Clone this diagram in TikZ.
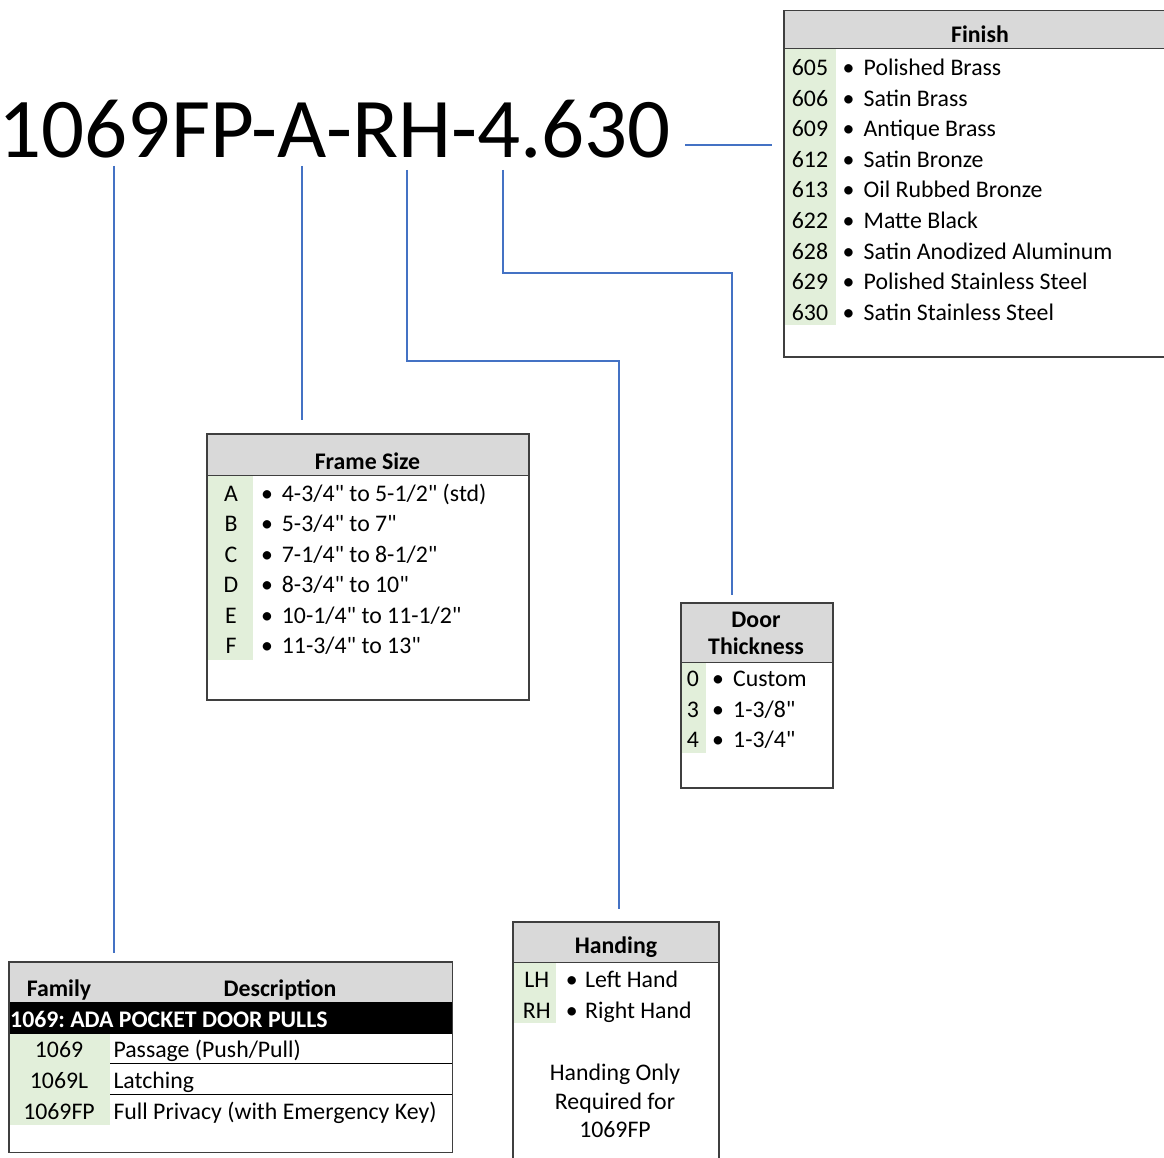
\documentclass[tikz,border=0pt]{standalone}
\usepackage{fontspec}
\setmainfont{Carlito}[Ligatures=TeXOff]
\definecolor{codegreen}{HTML}{E2EFDA}
\definecolor{hdrgrey}{HTML}{D9D9D9}
\definecolor{bordergrey}{HTML}{3F3F3F}
\definecolor{linkblue}{HTML}{4472C4}
\tikzset{
  boxframe/.style={draw=bordergrey, line width=1.5pt, inner sep=0pt, anchor=north west},
  hdrtxt/.style={inner sep=0pt, anchor=base, font=\fontsize{23.8}{26}\selectfont\bfseries},
  codetxt/.style={inner sep=0pt, anchor=base, font=\fontsize{23.8}{26}\selectfont},
  bultxt/.style={inner sep=0pt, anchor=base, font=\fontsize{23.8}{26}\selectfont},
  itemtxt/.style={inner sep=0pt, anchor=base west, font=\fontsize{23.8}{26}\selectfont},
  link/.style={draw=linkblue, line width=1.3pt},
  sepline/.style={draw=black, line width=1pt},
  hdrline/.style={draw=bordergrey, line width=1pt}
}
\begin{document}
\begin{tikzpicture}[x=1pt,y=-1pt]
\useasboundingbox (0,0) rectangle (1164,1158);

% ---------- title ----------
\node[inner sep=0pt, anchor=base west, font=\fontsize{85}{85}\selectfont] (title) at (-1.5,158) {1069FP-A-RH-4.630};
\coordinate (sFam) at (114,166);
\coordinate (sFrm) at (302,166);
\coordinate (sHnd) at (407,170);
\coordinate (sDr) at (503,170);
\coordinate (sFin) at (685,145);
\coordinate (eFin) at (772,145);
\coordinate (eFam) at (114,953);
\coordinate (eFrm) at (302,420);
\coordinate (eHnd) at (619,909);
\coordinate (eDr) at (732,595);

% ---------- Finish box ----------
\fill[hdrgrey] (783,10) rectangle (1166,49);
\fill[codegreen] (784,49) rectangle (836,325);
\node[boxframe, minimum width=383pt, minimum height=346pt] (finish) at (783,10) {};
\draw[hdrline] (783,49) -- (1166,49);
\node[hdrtxt] (finH) at (980,43) {Finish};
\foreach \i/\c/\t in {0/605/Polished Brass,1/606/Satin Brass,2/609/Antique Brass,3/612/Satin Bronze,4/613/Oil Rubbed Bronze,5/622/Matte Black,6/628/Satin Anodized Aluminum,7/629/Polished Stainless Steel,8/630/Satin Stainless Steel}{
  \node[codetxt] (finC\i) at (810,75.5+30.6*\i) {\c};
  \node[bultxt] (finB\i) at (848.5,75.5+30.6*\i) {•};
  \node[itemtxt] (finT\i) at (863.5,75.5+30.6*\i) {\t};
}

% ---------- Frame Size box ----------
\fill[hdrgrey] (206,433) rectangle (528,475);
\fill[codegreen] (207,475) rectangle (253,660);
\node[boxframe, minimum width=322pt, minimum height=266pt] (frame) at (206,433) {};
\draw[hdrline] (206,475) -- (528,475);
\node[hdrtxt] (frmH) at (367.5,469) {Frame Size};
\foreach \i/\c/\t in {0/A/{4-3/4" to 5-1/2" (std)},1/B/{5-3/4" to 7"},2/C/{7-1/4" to 8-1/2"},3/D/{8-3/4" to 10"},4/E/{10-1/4" to 11-1/2"},5/F/{11-3/4" to 13"}}{
  \node[codetxt] (frmC\i) at (231,501.5+30.4*\i) {\c};
  \node[bultxt] (frmB\i) at (267,501.5+30.4*\i) {•};
  \node[itemtxt] (frmT\i) at (281.7,501.5+30.4*\i) {\t};
}

% ---------- Door Thickness box ----------
\fill[hdrgrey] (680,602) rectangle (832,662);
\fill[codegreen] (681,662) rectangle (706,753);
\node[boxframe, minimum width=152pt, minimum height=185pt] (door) at (680,602) {};
\draw[hdrline] (680,662) -- (832,662);
\node[hdrtxt] (drH1) at (756,627.5) {Door};
\node[hdrtxt] (drH2) at (756,654) {Thickness};
\foreach \i/\c/\t in {0/0/Custom,1/3/{1-3/8"},2/4/{1-3/4"}}{
  \node[codetxt] (drC\i) at (693,686.5+30.5*\i) {\c};
  \node[bultxt] (drB\i) at (718,686.5+30.5*\i) {•};
  \node[itemtxt] (drT\i) at (733,686.5+30.5*\i) {\t};
}

% ---------- Handing box ----------
\fill[hdrgrey] (512,921) rectangle (718,962.5);
\fill[codegreen] (513,962.5) rectangle (556,1023);
\node[boxframe, minimum width=206pt, minimum height=250pt] (hand) at (512,921) {};
\draw[hdrline] (512,962.5) -- (718,962.5);
\node[hdrtxt] (hndH) at (616,953.5) {Handing};
\foreach \i/\c/\t in {0/LH/Left Hand,1/RH/Right Hand}{
  \node[codetxt] (hndC\i) at (536.7,987.7+30.6*\i) {\c};
  \node[bultxt] (hndB\i) at (571.7,987.7+30.6*\i) {•};
  \node[itemtxt] (hndT\i) at (585,987.7+30.6*\i) {\t};
}
\node[codetxt] (hndN1) at (615,1080.5) {Handing Only};
\node[codetxt] (hndN2) at (615,1109) {Required for};
\node[codetxt] (hndN3) at (615,1137) {1069FP};

% ---------- Family box ----------
\fill[hdrgrey] (8.3,961) rectangle (451.7,1002);
\fill[black] (8.3,1002) rectangle (451.7,1033.5);
\fill[codegreen] (9,1033.5) rectangle (110,1125);
\node[boxframe, minimum width=443.4pt, minimum height=190.7pt] (family) at (8.3,961) {};
\node[hdrtxt] (famH1) at (59,996) {Family};
\node[hdrtxt] (famH2) at (280,996) {Description};
\node[inner sep=0pt, anchor=base west, text=white, font=\fontsize{23.8}{26}\selectfont\bfseries] (famBar) at (10,1027.5) {1069:\hspace{0.22em}ADA POCKET DOOR PULLS};
\foreach \i/\c/\t in {0/1069/{Passage (Push/Pull)},1/1069L/Latching,2/1069FP/{Full Privacy (with Emergency Key)}}{
  \node[codetxt] (famC\i) at (59,1057.5+30.8*\i) {\c};
  \node[itemtxt] (famT\i) at (113.3,1057.5+30.8*\i) {\t};
}
\draw[sepline] (110,1063.5) -- (451.7,1063.5);
\draw[sepline] (110,1094.3) -- (451.7,1094.3);

% ---------- connectors ----------
\draw[link] (sFin) -- (eFin);
\draw[link] (sFam) -- (eFam);
\draw[link] (sFrm) -- (eFrm);
\draw[link] (sHnd) |- (619,361) -- (eHnd);
\draw[link] (sDr) |- (732,273) -- (eDr);
\end{tikzpicture}
\end{document}
